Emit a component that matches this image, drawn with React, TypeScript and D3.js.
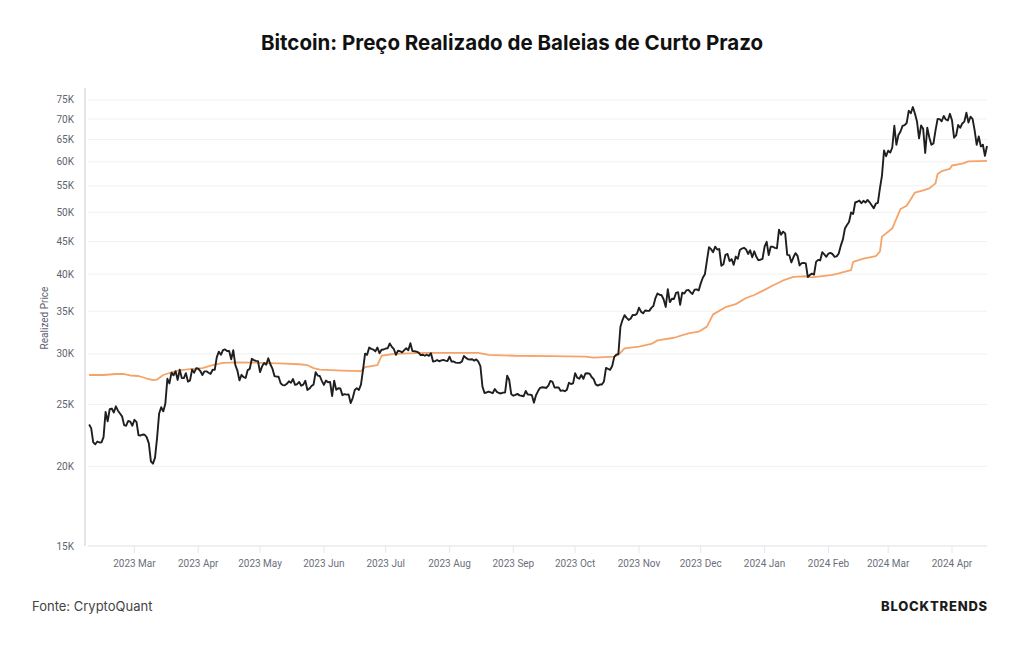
import React from "react";
import * as d3 from "d3";

// Daily BTC price (USD), from 2023-02-07 to 2024-04-18
const priceStart = new Date(2023, 1, 7);
const btcPrice: number[] = [
  // Feb 2023 (7–28)
  23250, 22950, 21800, 21650, 21870, 21790, 21800, 22220, 24330, 23520, 24570, 24630, 24280, 24830, 24440, 24190, 23950, 23200, 23150, 23550, 23490, 23150,
  // Mar 2023
  23650, 23480, 22360, 22350, 22430, 22410, 22200, 21720, 20360, 20190, 20630, 22160, 24200, 24750, 24380, 25050, 27420, 26970, 28040, 27770, 28180, 27310, 28330, 27490, 27490, 27990, 27140, 27270, 28350, 28030, 28480,
  // Apr 2023
  28450, 28200, 27800, 28170, 28170, 28030, 27920, 28330, 28320, 29650, 30240, 29900, 30400, 30490, 30320, 30320, 29430, 30400, 28820, 28250, 27270, 27820, 27590, 27510, 28300, 28420, 29470, 29340, 29250, 29230,
  // May 2023
  28090, 28680, 29030, 28850, 29530, 28900, 28450, 27690, 27650, 27620, 26990, 26800, 26780, 26930, 27170, 27030, 27400, 26830, 26890, 27110, 26750, 26850, 27230, 26330, 26470, 26720, 26870, 28080, 27740, 27700, 27220,
  // Jun 2023
  26820, 27250, 27080, 27120, 25760, 27240, 26350, 26500, 26480, 25850, 25940, 25900, 25920, 25120, 25580, 26330, 26510, 26340, 26850, 28330, 30030, 29900, 30700, 30550, 30470, 30270, 30700, 30080, 30450, 30480,
  // Jul 2023
  30590, 30620, 31160, 30770, 30510, 29900, 30350, 30290, 30170, 30410, 30620, 30390, 31180, 30300, 30290, 30250, 30140, 29860, 29910, 29800, 29910, 29790, 30080, 29180, 29230, 29350, 29210, 29310, 29350, 29280, 29230,
  // Aug 2023
  29700, 29180, 29180, 29070, 29040, 29040, 29180, 29770, 29570, 29430, 29400, 29420, 29280, 29410, 29170, 28700, 26660, 26050, 26100, 26190, 26120, 26040, 26430, 26160, 26050, 26010, 26090, 26100, 27730, 27300, 25930,
  // Sep 2023
  25800, 25870, 25970, 25830, 25790, 25750, 26240, 25910, 25900, 25840, 25160, 25840, 26230, 26540, 26600, 26570, 26530, 26760, 27210, 27130, 26570, 26580, 26580, 26250, 26300, 26220, 26370, 27030, 26910, 26970,
  // Oct 2023
  27990, 27530, 27430, 27800, 27420, 27950, 27970, 27940, 27600, 27390, 26870, 26760, 26860, 26860, 27160, 28520, 28420, 28330, 28720, 29680, 29920, 29990, 33090, 33900, 34500, 34160, 33910, 34090, 34540, 34500, 34670,
  // Nov 2023
  35440, 34940, 34730, 35080, 35050, 35040, 35420, 35650, 36700, 37310, 37130, 37070, 36500, 35540, 37880, 36160, 36600, 36580, 37390, 37480, 35810, 37420, 37290, 37720, 37800, 37480, 37250, 37830, 37860, 37720,
  // Dec 2023
  38690, 39480, 39980, 41990, 44080, 43780, 43290, 44170, 43730, 43790, 41240, 41450, 42890, 43020, 41930, 42240, 41360, 42620, 42270, 43650, 43870, 43990, 43740, 43020, 43610, 42520, 43440, 42580, 42070, 42140, 42280,
  // Jan 2024
  44180, 44960, 42850, 44180, 44160, 43970, 43930, 46970, 46120, 46630, 46340, 42890, 42850, 41730, 42510, 43150, 42740, 41280, 41620, 41660, 41580, 39570, 39900, 40080, 39930, 41820, 42120, 42030, 43300, 42950, 42580,
  // Feb 2024
  43080, 43190, 42990, 42580, 42660, 43090, 44330, 45300, 47150, 47770, 48290, 49960, 49700, 51800, 51940, 52160, 51660, 52120, 51780, 52280, 51840, 51300, 50740, 51570, 51730, 54520, 57090, 62500, 61200,
  // Mar 2024
  62440, 62030, 63170, 68330, 63800, 66110, 66920, 68300, 68500, 69020, 72120, 71480, 73100, 71400, 69400, 65300, 68390, 67600, 61940, 67850, 65500, 63800, 64100, 67200, 70000, 69980, 69450, 70780, 69890, 69650, 71330,
  // Apr 2024 (1–18)
  69700, 65450, 65980, 68510, 67840, 68900, 69360, 71630, 69140, 70590, 70060, 67200, 63800, 65740, 63420, 63810, 61280, 63510,
];

// Short-term whale realized price (USD)
const whaleDates: string[] = [
  "2023-02-07", "2023-02-14", "2023-02-20", "2023-02-24", "2023-02-27", "2023-03-03", "2023-03-07", "2023-03-10",
  "2023-03-12", "2023-03-15", "2023-03-18", "2023-03-22", "2023-03-28", "2023-04-03", "2023-04-08", "2023-04-13",
  "2023-04-20", "2023-05-01", "2023-05-10", "2023-05-20", "2023-05-24", "2023-05-27", "2023-05-30", "2023-06-10",
  "2023-06-19", "2023-06-21", "2023-06-27", "2023-06-29", "2023-07-05", "2023-07-20", "2023-08-15", "2023-08-20",
  "2023-09-02", "2023-09-20", "2023-10-06", "2023-10-10", "2023-10-20", "2023-10-22", "2023-10-25", "2023-11-01",
  "2023-11-07", "2023-11-10", "2023-11-18", "2023-11-25", "2023-11-30", "2023-12-04", "2023-12-07", "2023-12-13",
  "2023-12-18", "2023-12-23", "2023-12-27", "2024-01-01", "2024-01-05", "2024-01-10", "2024-01-15", "2024-01-21",
  "2024-01-24", "2024-02-03", "2024-02-06", "2024-02-12", "2024-02-13", "2024-02-18", "2024-02-24", "2024-02-26",
  "2024-02-27", "2024-03-01", "2024-03-03", "2024-03-06", "2024-03-07", "2024-03-10", "2024-03-14", "2024-03-18",
  "2024-03-21", "2024-03-24", "2024-03-25", "2024-03-27", "2024-03-31", "2024-04-01", "2024-04-06", "2024-04-09",
  "2024-04-18",
];
const whaleRealized: number[] = [
  27800, 27800, 27900, 27900, 27750, 27700, 27450, 27300,
  27350, 27800, 28000, 28250, 28400, 28500, 28800, 29050,
  29100, 29050, 29000, 28900, 28800, 28500, 28350, 28250,
  28200, 28600, 28800, 29800, 30000, 30100, 30100, 29900,
  29800, 29750, 29700, 29600, 29700, 29900, 30600, 30800,
  31100, 31500, 31800, 32300, 32500, 33100, 34600, 35500,
  35900, 36700, 37100, 37800, 38400, 39100, 39600, 39700,
  39550, 39900, 40100, 40600, 41800, 42300, 42700, 43400,
  45800, 46600, 47200, 49700, 50600, 51200, 53700, 54100,
  54500, 55500, 57400, 58000, 58500, 59200, 59600, 60100,
  60200,
];

const yTicks: number[] = [15000, 20000, 25000, 30000, 35000, 40000, 45000, 50000, 55000, 60000, 65000, 70000, 75000];

const W = 1024;
const H = 645;
const plot = { left: 85, right: 987, top: 88, bottom: 546 };

const parseDay = d3.timeParse("%Y-%m-%d");

export default function App() {
  const x = d3
    .scaleTime()
    .domain([new Date(2023, 1, 5), new Date(2024, 3, 18)])
    .range([plot.left, plot.right]);
  const y = d3.scaleLog().domain([15000, 78300]).range([plot.bottom, plot.top]);

  const priceSeries = btcPrice.map((v, i) => ({ date: d3.timeDay.offset(priceStart, i), value: v }));
  const whaleSeries = whaleDates.map((d, i) => ({ date: parseDay(d) as Date, value: whaleRealized[i] }));

  const line = d3
    .line<{ date: Date; value: number }>()
    .x((d) => x(d.date))
    .y((d) => y(d.value));

  const monthTicks = d3.timeMonth.range(new Date(2023, 2, 1), new Date(2024, 3, 2));
  const fmtMonth = d3.timeFormat("%Y %b");

  const axisFont = "Roboto, 'Noto Sans', sans-serif";
  const uiFont = "Inter, 'Noto Sans', sans-serif";

  return (
    <svg
      width={W}
      height={H}
      viewBox={`0 0 ${W} ${H}`}
      style={{ position: "absolute", left: 0, top: 0, background: "#fff" }}
    >
      <rect x={0} y={0} width={W} height={H} fill="#fff" />
      <text x={512} y={50} textAnchor="middle" fontFamily={uiFont} fontWeight={700} fontSize={20.5} fill="#111">
        Bitcoin: Preço Realizado de Baleias de Curto Prazo
      </text>

      {/* horizontal gridlines */}
      {yTicks.map((t) => (
        <line key={"g" + t} x1={plot.left + 3} x2={plot.right} y1={y(t)} y2={y(t)} stroke="#f1f1f3" strokeWidth={1} />
      ))}

      {/* y axis */}
      <line x1={plot.left} x2={plot.left} y1={plot.top} y2={plot.bottom} stroke="#dcdde2" strokeWidth={1.5} />
      {yTicks.map((t) => (
        <text
          key={"yt" + t}
          x={74}
          y={y(t)}
          dy="0.35em"
          textAnchor="end"
          fontFamily={axisFont}
          fontSize={10}
          fill="#5f6370"
        >
          {`${t / 1000}K`}
        </text>
      ))}
      <text
        transform={`translate(48,318) rotate(-90)`}
        textAnchor="middle"
        fontFamily={axisFont}
        fontSize={10}
        fill="#5f6370"
      >
        Realized Price
      </text>

      {/* x axis */}
      <line x1={plot.left + 3} x2={plot.right} y1={plot.bottom} y2={plot.bottom} stroke="#e6e7eb" strokeWidth={1} />
      {monthTicks.map((m) => (
        <g key={"xt" + m.getTime()}>
          <line x1={x(m)} x2={x(m)} y1={plot.bottom} y2={plot.bottom + 7} stroke="#e6e7eb" strokeWidth={1} />
          <text x={x(m)} y={567} textAnchor="middle" fontFamily={axisFont} fontSize={10} fill="#6b6f7b">
            {fmtMonth(m)}
          </text>
        </g>
      ))}

      {/* series */}
      <path d={line(whaleSeries) || ""} fill="none" stroke="#f5a469" strokeWidth={1.8} strokeLinejoin="round" />
      <path d={line(priceSeries) || ""} fill="none" stroke="#1f1f1f" strokeWidth={1.9} strokeLinejoin="round" />

      {/* footer */}
      <text x={32} y={611} fontFamily={uiFont} fontSize={13} fill="#444">
        Fonte: CryptoQuant
      </text>
      <text
        x={988}
        y={611}
        textAnchor="end"
        fontFamily={uiFont}
        fontWeight={800}
        fontSize={13}
        letterSpacing={0.8}
        fill="#1c1c1c"
      >
        BLOCKTRENDS
      </text>
    </svg>
  );
}
